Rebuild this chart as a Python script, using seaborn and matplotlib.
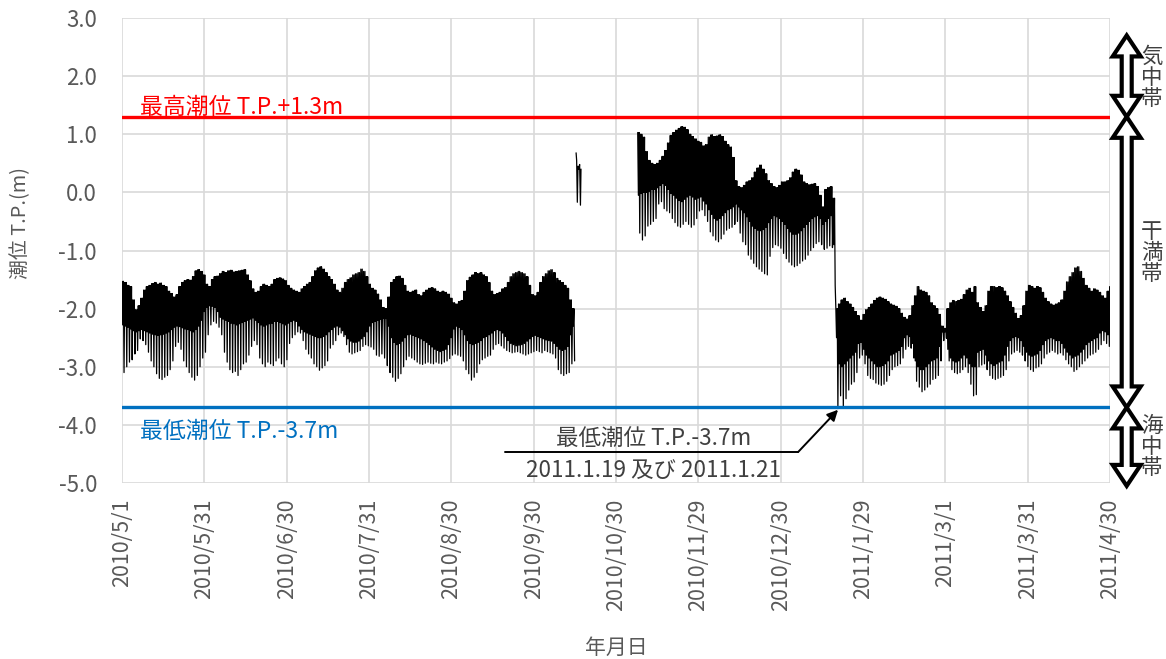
import numpy as np
import pandas as pd
import matplotlib
matplotlib.use("Agg")
import matplotlib.pyplot as plt
import seaborn as sns
from matplotlib.patches import Polygon
from matplotlib.transforms import blended_transform_factory

sns.set_theme(style="white")
plt.rcParams['font.family'] = ['Noto Sans CJK JP', 'DejaVu Sans']
plt.rcParams['axes.unicode_minus'] = False

# ---------------- data ----------------
x_tick_labels = ["2010/5/1", "2010/5/31", "2010/6/30", "2010/7/31", "2010/8/30",
                 "2010/9/30", "2010/10/30", "2010/11/29", "2010/12/30", "2011/1/29",
                 "2011/3/1", "2011/3/31", "2011/4/30"]
n_days = 364
y_ticks = [3.0, 2.0, 1.0, 0.0, -1.0, -2.0, -3.0, -4.0, -5.0]

hi_tide = 1.3
lo_tide = -3.7
hi_label = "最高潮位 T.P.+1.3m"
lo_label = "最低潮位 T.P.-3.7m"
note_lines = ["最低潮位 T.P.-3.7m", "2011.1.19 及び 2011.1.21"]
zones = ["気\n中\n帯", "干\n満\n帯", "海\n中\n帯"]

# segment 1 : 2010/5/1 - 2010/10/14 (daily high water, higher low, lower low)
seg1_start = 0
seg1_hw = [-1.53, -1.55, -1.60, -1.62, -1.85, -2.02, -1.95, -1.82, -1.68, -1.62,
           -1.60, -1.57, -1.55, -1.58, -1.56, -1.60, -1.62, -1.70, -1.74, -1.80,
           -1.76, -1.62, -1.55, -1.52, -1.50, -1.51, -1.45, -1.35, -1.33, -1.36,
           -1.42, -1.58, -1.62, -1.50, -1.45, -1.44, -1.40, -1.36, -1.38, -1.35,
           -1.34, -1.37, -1.36, -1.35, -1.34, -1.33, -1.42, -1.52, -1.66, -1.72,
           -1.70, -1.62, -1.58, -1.60, -1.62, -1.58, -1.50, -1.48, -1.47, -1.49,
           -1.52, -1.60, -1.65, -1.68, -1.70, -1.72, -1.66, -1.62, -1.58, -1.55,
           -1.45, -1.35, -1.30, -1.28, -1.32, -1.38, -1.45, -1.50, -1.58, -1.68,
           -1.72, -1.65, -1.55, -1.50, -1.47, -1.42, -1.40, -1.38, -1.32, -1.36,
           -1.45, -1.58, -1.65, -1.68, -1.75, -1.85, -1.98, -2.00, -1.80, -1.55,
           -1.50, -1.45, -1.44, -1.48, -1.60, -1.70, -1.72, -1.70, -1.68, -1.76,
           -1.78, -1.72, -1.68, -1.65, -1.64, -1.66, -1.70, -1.72, -1.70, -1.72,
           -1.75, -1.82, -1.90, -1.92, -1.88, -1.86, -1.70, -1.52, -1.46, -1.42,
           -1.38, -1.40, -1.38, -1.42, -1.45, -1.55, -1.70, -1.76, -1.74, -1.72,
           -1.66, -1.64, -1.55, -1.45, -1.40, -1.38, -1.36, -1.38, -1.40, -1.45,
           -1.60, -1.76, -1.78, -1.72, -1.55, -1.45, -1.40, -1.35, -1.33, -1.38,
           -1.48, -1.52, -1.55, -1.60, -1.65, -1.85, -2.00]
seg1_lw_hi = [-2.28, -2.30, -2.32, -2.35, -2.38,
              -2.40, -2.38, -2.36, -2.38, -2.40, -2.42, -2.44, -2.45, -2.46, -2.45, -2.44, -2.42, -2.40,
              -2.36, -2.32, -2.30, -2.31, -2.33, -2.35, -2.36, -2.38, -2.40, -2.36, -2.30, -2.20,
              -2.05, -1.98, -1.95, -1.96, -1.98, -2.05,
              -2.15, -2.18, -2.20, -2.22,
              -2.25, -2.26, -2.28, -2.26, -2.24, -2.22, -2.20,
              -2.18, -2.16, -2.20, -2.24, -2.28, -2.30, -2.28, -2.26, -2.25, -2.22, -2.22,
              -2.24, -2.26, -2.28, -2.25, -2.22, -2.20, -2.22,
              -2.30, -2.36, -2.40, -2.42, -2.44, -2.46,
              -2.48, -2.50, -2.50, -2.48, -2.45, -2.40, -2.36, -2.32, -2.30, -2.32, -2.38,
              -2.45, -2.52, -2.56, -2.58, -2.58, -2.56, -2.52, -2.48, -2.40, -2.30,
              -2.24, -2.22, -2.20, -2.18, -2.17, -2.17, -2.30,
              -2.50, -2.58, -2.62, -2.60, -2.56, -2.50, -2.45, -2.44, -2.46, -2.48,
              -2.50, -2.52, -2.55, -2.58, -2.62, -2.66, -2.70,
              -2.72, -2.74, -2.72, -2.70, -2.62, -2.50,
              -2.35, -2.30, -2.32, -2.36, -2.45,
              -2.55, -2.60, -2.62, -2.60, -2.58, -2.55, -2.50, -2.48, -2.45, -2.42,
              -2.38, -2.36, -2.38, -2.42, -2.48,
              -2.55, -2.60, -2.62, -2.64, -2.63, -2.62, -2.60, -2.56, -2.52,
              -2.48, -2.46, -2.48, -2.50, -2.52, -2.54, -2.55, -2.56, -2.60,
              -2.65, -2.70, -2.72, -2.70, -2.65, -2.45, -2.30]
seg1_lw_lo = [-3.10, -3.00, -2.92, -2.88, -2.78, -2.72, -2.52, -2.55, -2.62, -2.75,
              -2.90, -3.00, -3.12, -3.20, -3.22, -3.18, -3.15, -3.05, -2.90, -2.65,
              -2.58, -2.70, -2.90, -3.00, -3.10, -3.18, -3.23, -3.15, -3.00, -2.85,
              -2.75, -2.45, -2.28, -2.22, -2.25, -2.32, -2.45, -2.75, -2.92, -3.05,
              -3.10, -3.08, -3.15, -3.05, -2.95, -2.92, -2.80, -2.65, -2.55, -2.62,
              -2.85, -2.95, -3.00, -2.92, -2.95, -2.98, -2.90, -2.85, -2.95, -3.00,
              -2.88, -2.60, -2.50, -2.45, -2.40, -2.42, -2.55, -2.70, -2.78, -2.85,
              -2.95, -3.00, -3.06, -3.02, -2.98, -2.90, -2.68, -2.62, -2.55, -2.45,
              -2.42, -2.48, -2.62, -2.75, -2.78, -2.76, -2.74, -2.72, -2.65, -2.62,
              -2.64, -2.66, -2.70, -2.80, -2.82, -2.78, -2.85, -2.98, -3.10, -3.18,
              -3.25, -3.20, -3.12, -3.00, -2.88, -2.82, -2.85, -2.88, -2.92, -2.95,
              -2.96, -2.94, -2.92, -2.94, -2.95, -2.92, -2.94, -2.95, -2.92, -2.90,
              -2.86, -2.80, -2.78, -2.80, -2.82, -2.90, -3.05, -3.12, -3.23, -3.18,
              -3.10, -2.95, -2.88, -2.85, -2.82, -2.80, -2.70, -2.62, -2.60, -2.64,
              -2.68, -2.72, -2.74, -2.76, -2.75, -2.74, -2.76, -2.78, -2.80, -2.78,
              -2.76, -2.74, -2.72, -2.74, -2.76, -2.72, -2.74, -2.76, -2.78, -2.85,
              -3.05, -3.12, -3.15, -3.12, -3.10, -2.95, -2.90]

# segment 2 : short record around 2010/10/15 (day, level)
seg2_day = [167.3, 167.5, 167.75, 168.0, 168.3, 168.6, 168.9, 169.1]
seg2_lev = [0.68, 0.55, -0.17, 0.45, 0.40, 0.48, -0.22, 0.40]

# segment 3 : 2010/11/7 - 2011/4/30
seg3_start = 190
seg3_hw = [1.03, 1.00, 0.95, 0.70, 0.55, 0.50, 0.48, 0.50, 0.55, 0.62,
           0.72, 0.85, 0.98, 1.03, 1.07, 1.10, 1.13, 1.12, 1.08, 1.00,
           0.96, 0.92, 0.88, 0.86,
           0.80, 0.82, 0.95, 0.99, 0.96, 0.97, 0.99, 0.96, 0.88, 0.82,
           0.78, 0.60, 0.20, 0.10, 0.08, 0.12, 0.18, 0.20, 0.25, 0.35,
           0.42, 0.47, 0.40, 0.32, 0.20, 0.15, 0.10, 0.08, 0.12, 0.18,
           0.18, 0.20, 0.25, 0.35, 0.40, 0.38, 0.30, 0.18, 0.15, 0.13,
           0.14, 0.15, 0.10, -0.05, -0.25, 0.05, 0.08, 0.10, -0.10,
           -2.00, -1.92, -1.85, -1.82, -1.88, -1.92, -1.98, -2.05, -2.12, -2.20,
           -2.10, -2.02, -1.98, -1.92, -1.86, -1.82, -1.80, -1.82, -1.84, -1.88,
           -1.92, -1.94, -1.96, -2.00, -2.08, -2.15, -2.18, -2.12, -1.95,
           -1.78, -1.62, -1.68, -1.70, -1.72, -1.78, -1.90, -1.95, -2.00, -2.10,
           -2.30, -2.34, -2.00, -1.90, -1.86, -1.88, -1.86, -1.84,
           -1.76, -1.68, -1.65, -1.72, -1.62, -1.90, -1.98, -2.05, -1.95,
           -1.70, -1.62, -1.62, -1.64, -1.62, -1.64, -1.70, -1.78,
           -1.88, -1.98, -2.08, -2.17, -2.12, -1.95,
           -1.70, -1.60, -1.62, -1.65, -1.62, -1.64, -1.72,
           -1.82, -1.88, -1.92, -1.94, -1.92, -1.90, -1.85, -1.70,
           -1.54, -1.45, -1.38, -1.30, -1.28, -1.36, -1.48,
           -1.60, -1.65, -1.70, -1.66, -1.68, -1.72, -1.78, -1.82, -1.70, -1.62]
seg3_lw_hi = [-0.05, -0.02, 0.00, 0.00, 0.02, 0.05, 0.05, 0.08, 0.12, 0.15,
              0.12, 0.05, -0.02, -0.05, -0.10, -0.14, -0.16, -0.12, -0.08, -0.05,
              -0.08, -0.12, -0.10, -0.08,
              -0.15, -0.20, -0.30, -0.38, -0.45, -0.48, -0.45, -0.40, -0.35, -0.30,
              -0.28, -0.25, -0.20, -0.25, -0.30, -0.35, -0.42, -0.50, -0.58, -0.62,
              -0.65, -0.66, -0.64, -0.60, -0.52, -0.45, -0.40, -0.42, -0.45, -0.50,
              -0.55, -0.62, -0.68, -0.72, -0.72, -0.70, -0.66, -0.60, -0.55, -0.50,
              -0.45, -0.42, -0.40, -0.45, -0.55, -0.50, -0.45, -0.40, -0.90,
              -2.50, -2.95, -3.00, -2.95, -2.90, -2.85, -2.80, -2.75, -2.60, -2.58,
              -2.70, -2.80, -2.85, -2.90, -2.95, -3.00, -3.00, -2.98, -2.95, -2.90,
              -2.80, -2.78, -2.75, -2.72, -2.65, -2.50, -2.45, -2.48, -2.60,
              -2.90, -3.00, -3.05, -3.05, -3.00, -2.95, -2.90, -2.88, -2.85, -2.65,
              -2.40, -2.40, -2.70, -2.85, -2.90, -2.92, -2.90, -2.85,
              -2.80, -2.85, -2.95, -3.00, -3.00, -2.75, -2.72, -2.70, -2.80,
              -2.90, -2.95, -2.98, -2.95, -2.92, -2.90, -2.80, -2.65,
              -2.55, -2.50, -2.48, -2.50, -2.55, -2.65,
              -2.75, -2.80, -2.82, -2.80, -2.78, -2.72, -2.62,
              -2.55, -2.52, -2.50, -2.52, -2.55, -2.55, -2.60, -2.68,
              -2.75, -2.80, -2.85, -2.82, -2.80, -2.75, -2.70,
              -2.62, -2.58, -2.55, -2.52, -2.50, -2.42, -2.38, -2.40, -2.45, -2.38]
seg3_lw_lo = [-0.70, -0.82, -0.75, -0.58, -0.55, -0.50, -0.45, -0.20, -0.16, -0.28,
              -0.32, -0.35, -0.45, -0.52, -0.58, -0.60, -0.55, -0.50, -0.55, -0.60,
              -0.56, -0.45, -0.32, -0.30,
              -0.40, -0.50, -0.68, -0.75, -0.82, -0.85, -0.80, -0.72, -0.65, -0.62,
              -0.60, -0.55, -0.50, -0.70, -0.85, -0.90, -1.08, -1.15, -1.22, -1.28,
              -1.32, -1.36, -1.40, -1.42, -1.10, -0.95, -0.90, -0.92, -0.96, -1.05,
              -1.14, -1.20, -1.25, -1.28, -1.26, -1.22, -1.18, -1.15, -1.08, -1.00,
              -0.95, -0.88, -0.85, -0.90, -0.98, -0.96, -0.92, -0.95, -1.60,
              -3.72, -3.50, -3.70, -3.55, -3.40, -3.30, -3.26, -3.10, -2.85, -2.80,
              -2.95, -3.15, -3.20, -3.22, -3.28, -3.30, -3.32, -3.30, -3.25, -3.15,
              -3.05, -3.00, -2.98, -2.95, -2.85, -2.70, -2.65, -2.68, -2.85,
              -3.25, -3.35, -3.43, -3.40, -3.35, -3.30, -3.22, -3.20, -3.15, -2.90,
              -2.55, -2.51, -2.90, -3.05, -3.10, -3.12, -3.10, -3.05,
              -3.00, -3.10, -3.30, -3.50, -3.48, -3.00, -2.97, -2.95, -3.05,
              -3.15, -3.20, -3.22, -3.20, -3.18, -3.15, -3.05, -2.90,
              -2.78, -2.75, -2.72, -2.75, -2.80, -2.90,
              -3.00, -3.05, -3.08, -3.02, -3.00, -2.95, -2.85,
              -2.78, -2.75, -2.72, -2.75, -2.78, -2.76, -2.80, -2.88,
              -2.95, -3.00, -3.08, -3.05, -3.00, -2.95, -2.90,
              -2.85, -2.80, -2.78, -2.75, -2.70, -2.62, -2.55, -2.60, -2.65, -2.55]

# ---------------- build long table ----------------
def tide_rows(start, hw, lw_hi, lw_lo, seg):
    assert len(hw) == len(lw_hi) == len(lw_lo), (seg, len(hw), len(lw_hi), len(lw_lo))
    rows = []
    for i, (h, a, b) in enumerate(zip(hw, lw_hi, lw_lo)):
        d = start + i
        rows += [(d, h, seg), (d + 0.25, a, seg), (d + 0.5, h, seg), (d + 0.75, b, seg)]
    return rows

rows = tide_rows(seg1_start, seg1_hw, seg1_lw_hi, seg1_lw_lo, 1)
rows += [(d, v, 2) for d, v in zip(seg2_day, seg2_lev)]
rows += tide_rows(seg3_start, seg3_hw, seg3_lw_hi, seg3_lw_lo, 3)
df = pd.DataFrame(rows, columns=["day", "level", "seg"])

# ---------------- figure ----------------
fig = plt.figure(figsize=(11.66, 6.59), dpi=100)
ax = fig.add_axes([122 / 1166, 1 - 483 / 659, 988 / 1166, 465 / 659])

grid_c = "#D9D9D9"
text_c = "#595959"

sns.lineplot(data=df, x="day", y="level", units="seg", estimator=None,
             color="black", lw=0.9, ax=ax, legend=False, zorder=3)

ax.axhline(hi_tide, color="#FF0000", lw=2.4, zorder=4)
ax.axhline(lo_tide, color="#0070C0", lw=2.4, zorder=4)

ax.set_xlim(0, n_days)
ax.set_ylim(-5, 3)
ax.set_xticks(np.linspace(0, n_days, len(x_tick_labels)))
ax.set_xticklabels(x_tick_labels, rotation=90, fontsize=15.5, color=text_c)
ax.set_yticks(y_ticks)
ax.set_yticklabels([f"{v:.1f}" for v in y_ticks], fontsize=16, color=text_c)
ax.tick_params(axis="x", length=0, pad=11)
ax.tick_params(axis="y", length=0, pad=18)
ax.grid(True, color=grid_c, lw=1.2, zorder=0)
ax.set_axisbelow(True)
for s in ax.spines.values():
    s.set_visible(False)

ax.set_xlabel("年月日", fontsize=15, color=text_c)
ax.xaxis.set_label_coords(0.5, -0.33)
ax.set_ylabel("潮位 T.P.(m)", fontsize=14.3, color=text_c)
ax.yaxis.set_label_coords(-0.092, 0.56)

# reference-level labels
ax.text(6.6, hi_tide + 0.16, hi_label, color="#FF0000", fontsize=16.5, va="center", ha="left")
ax.text(6.6, lo_tide - 0.42, lo_label, color="#0070C0", fontsize=16.5, va="center", ha="left")

# annotation of minimum
ax.text(196, -4.24, note_lines[0], color="#404040", fontsize=16.2, ha="center", va="center")
ax.text(196, -4.78, note_lines[1], color="#404040", fontsize=16.2, ha="center", va="center")
ax.plot([141.1, 249.1], [-4.467, -4.467], color="black", lw=1.4, zorder=5)
ax.annotate("", xy=(263.8, -3.74), xytext=(249.1, -4.467),
            arrowprops=dict(arrowstyle="-|>", color="black", lw=1.4,
                            mutation_scale=16, shrinkA=0, shrinkB=0), zorder=5)

# zone double arrows on the right
tr = blended_transform_factory(ax.transAxes, ax.transData)
cx = 1.0169
hs = 5 / 988
hh = 14 / 988
hl = 21 / 58.125

def double_arrow(y_top, y_bot):
    pts = [(cx, y_top), (cx + hh, y_top - hl), (cx + hs, y_top - hl),
           (cx + hs, y_bot + hl), (cx + hh, y_bot + hl), (cx, y_bot),
           (cx - hh, y_bot + hl), (cx - hs, y_bot + hl), (cx - hs, y_top - hl),
           (cx - hh, y_top - hl)]
    p = Polygon(pts, closed=True, transform=tr, facecolor="white",
                edgecolor="black", lw=3.0, clip_on=False, zorder=10,
                joinstyle="miter")
    ax.add_patch(p)

zone_bounds = [(2.70, hi_tide), (hi_tide, lo_tide), (lo_tide, -5.05)]
zone_text_y = [1.97, -1.04, -4.38]
for (yt, yb), label, ty in zip(zone_bounds, zones, zone_text_y):
    double_arrow(yt, yb)
    ax.text(1.0425, ty, label, transform=tr, fontsize=15.5, color="#404040",
            ha="center", va="center", linespacing=0.95, clip_on=False, zorder=6)

fig.savefig("out.png", dpi=100)
